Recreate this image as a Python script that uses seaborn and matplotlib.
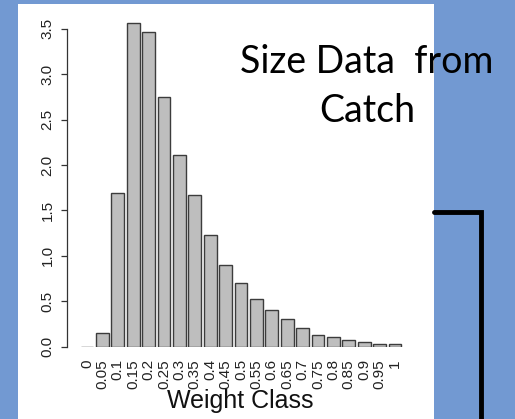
import matplotlib
matplotlib.use('AGG')
import matplotlib.pyplot as plt
from matplotlib.patches import Rectangle
from matplotlib.lines import Line2D
import seaborn as sns
from pandas import DataFrame

# valores
clases = ['0', '0.05', '0.1', '0.15', '0.2', '0.25', '0.3', '0.35', '0.4', '0.45', '0.5',
          '0.55', '0.6', '0.65', '0.7', '0.75', '0.8', '0.85', '0.9', '0.95', '1']
alturas = [0.0, 0.15, 1.69, 3.56, 3.46, 2.75, 2.11, 1.67, 1.23, 0.90, 0.70,
           0.52, 0.40, 0.30, 0.21, 0.13, 0.11, 0.074, 0.05, 0.035, 0.03]
marcas_y = [0.0, 0.5, 1.0, 1.5, 2.0, 2.5, 3.0, 3.5]
titulo = ['Size Data  from', 'Catch']
eje_x = 'Weight Class'

W, H = 515, 419
sns.set_theme(style='white')
plt.rcParams['font.family'] = ['Liberation Sans', 'DejaVu Sans']

fig = plt.figure(figsize=(W / 100, H / 100), dpi=100)
fig.patch.set_facecolor('#7299d2')
fig.patches.append(Rectangle((18 / W, 0), 416 / W, 415 / H, transform=fig.transFigure,
                             facecolor='white', edgecolor='none', zorder=-5))

ax = fig.add_axes([67 / W, (H - 346.7) / H, 337.2 / W, 336 / H])
ax.set_facecolor('none')
datos = DataFrame({'clase': clases, 'valor': alturas})
sns.barplot(data=datos, x='clase', y='valor', color='#bebebe', saturation=1, width=0.83,
            edgecolor='#3c3c3c', linewidth=1.0, ax=ax)
ax.set_xlim(-1.3, 20.6)
ax.set_ylim(0, 3.7)
ax.set_xlabel('')
ax.set_ylabel('')

sns.despine(ax=ax, bottom=True)
ax.spines['left'].set_bounds(0, 3.5)
ax.spines['left'].set_color('#333333')
ax.spines['left'].set_linewidth(0.9)
ax.set_yticks(marcas_y)
ax.set_yticklabels([f'{m:.1f}' for m in marcas_y], rotation=90, va='center', fontsize=11, color='#222222')
ax.tick_params(axis='y', left=True, length=4, width=0.9, color='#333333', pad=5)
ax.tick_params(axis='x', bottom=False, pad=3)
ax.set_xticks(range(len(clases)))
ax.set_xticklabels(clases, rotation=90, fontsize=11, color='#222222', va='top', ha='center')

fig.text(240 / W, 1 - 401 / H, eje_x, fontsize=18, ha='center', va='center', color='#111111')
for linea, base in zip(titulo, [73, 122]):
    fig.text(367 / W, 1 - base / H, linea, fontsize=27, ha='center', va='baseline',
             family=['Lato', 'DejaVu Sans'], color='black')

fig.lines.append(Line2D([434 / W, 481 / W, 481 / W], [1 - 212 / H, 1 - 212 / H, 0],
                        transform=fig.transFigure, color='black', linewidth=3.5,
                        solid_joinstyle='miter'))

plt.savefig('out.png', dpi=100, facecolor=fig.get_facecolor())
plt.close()
